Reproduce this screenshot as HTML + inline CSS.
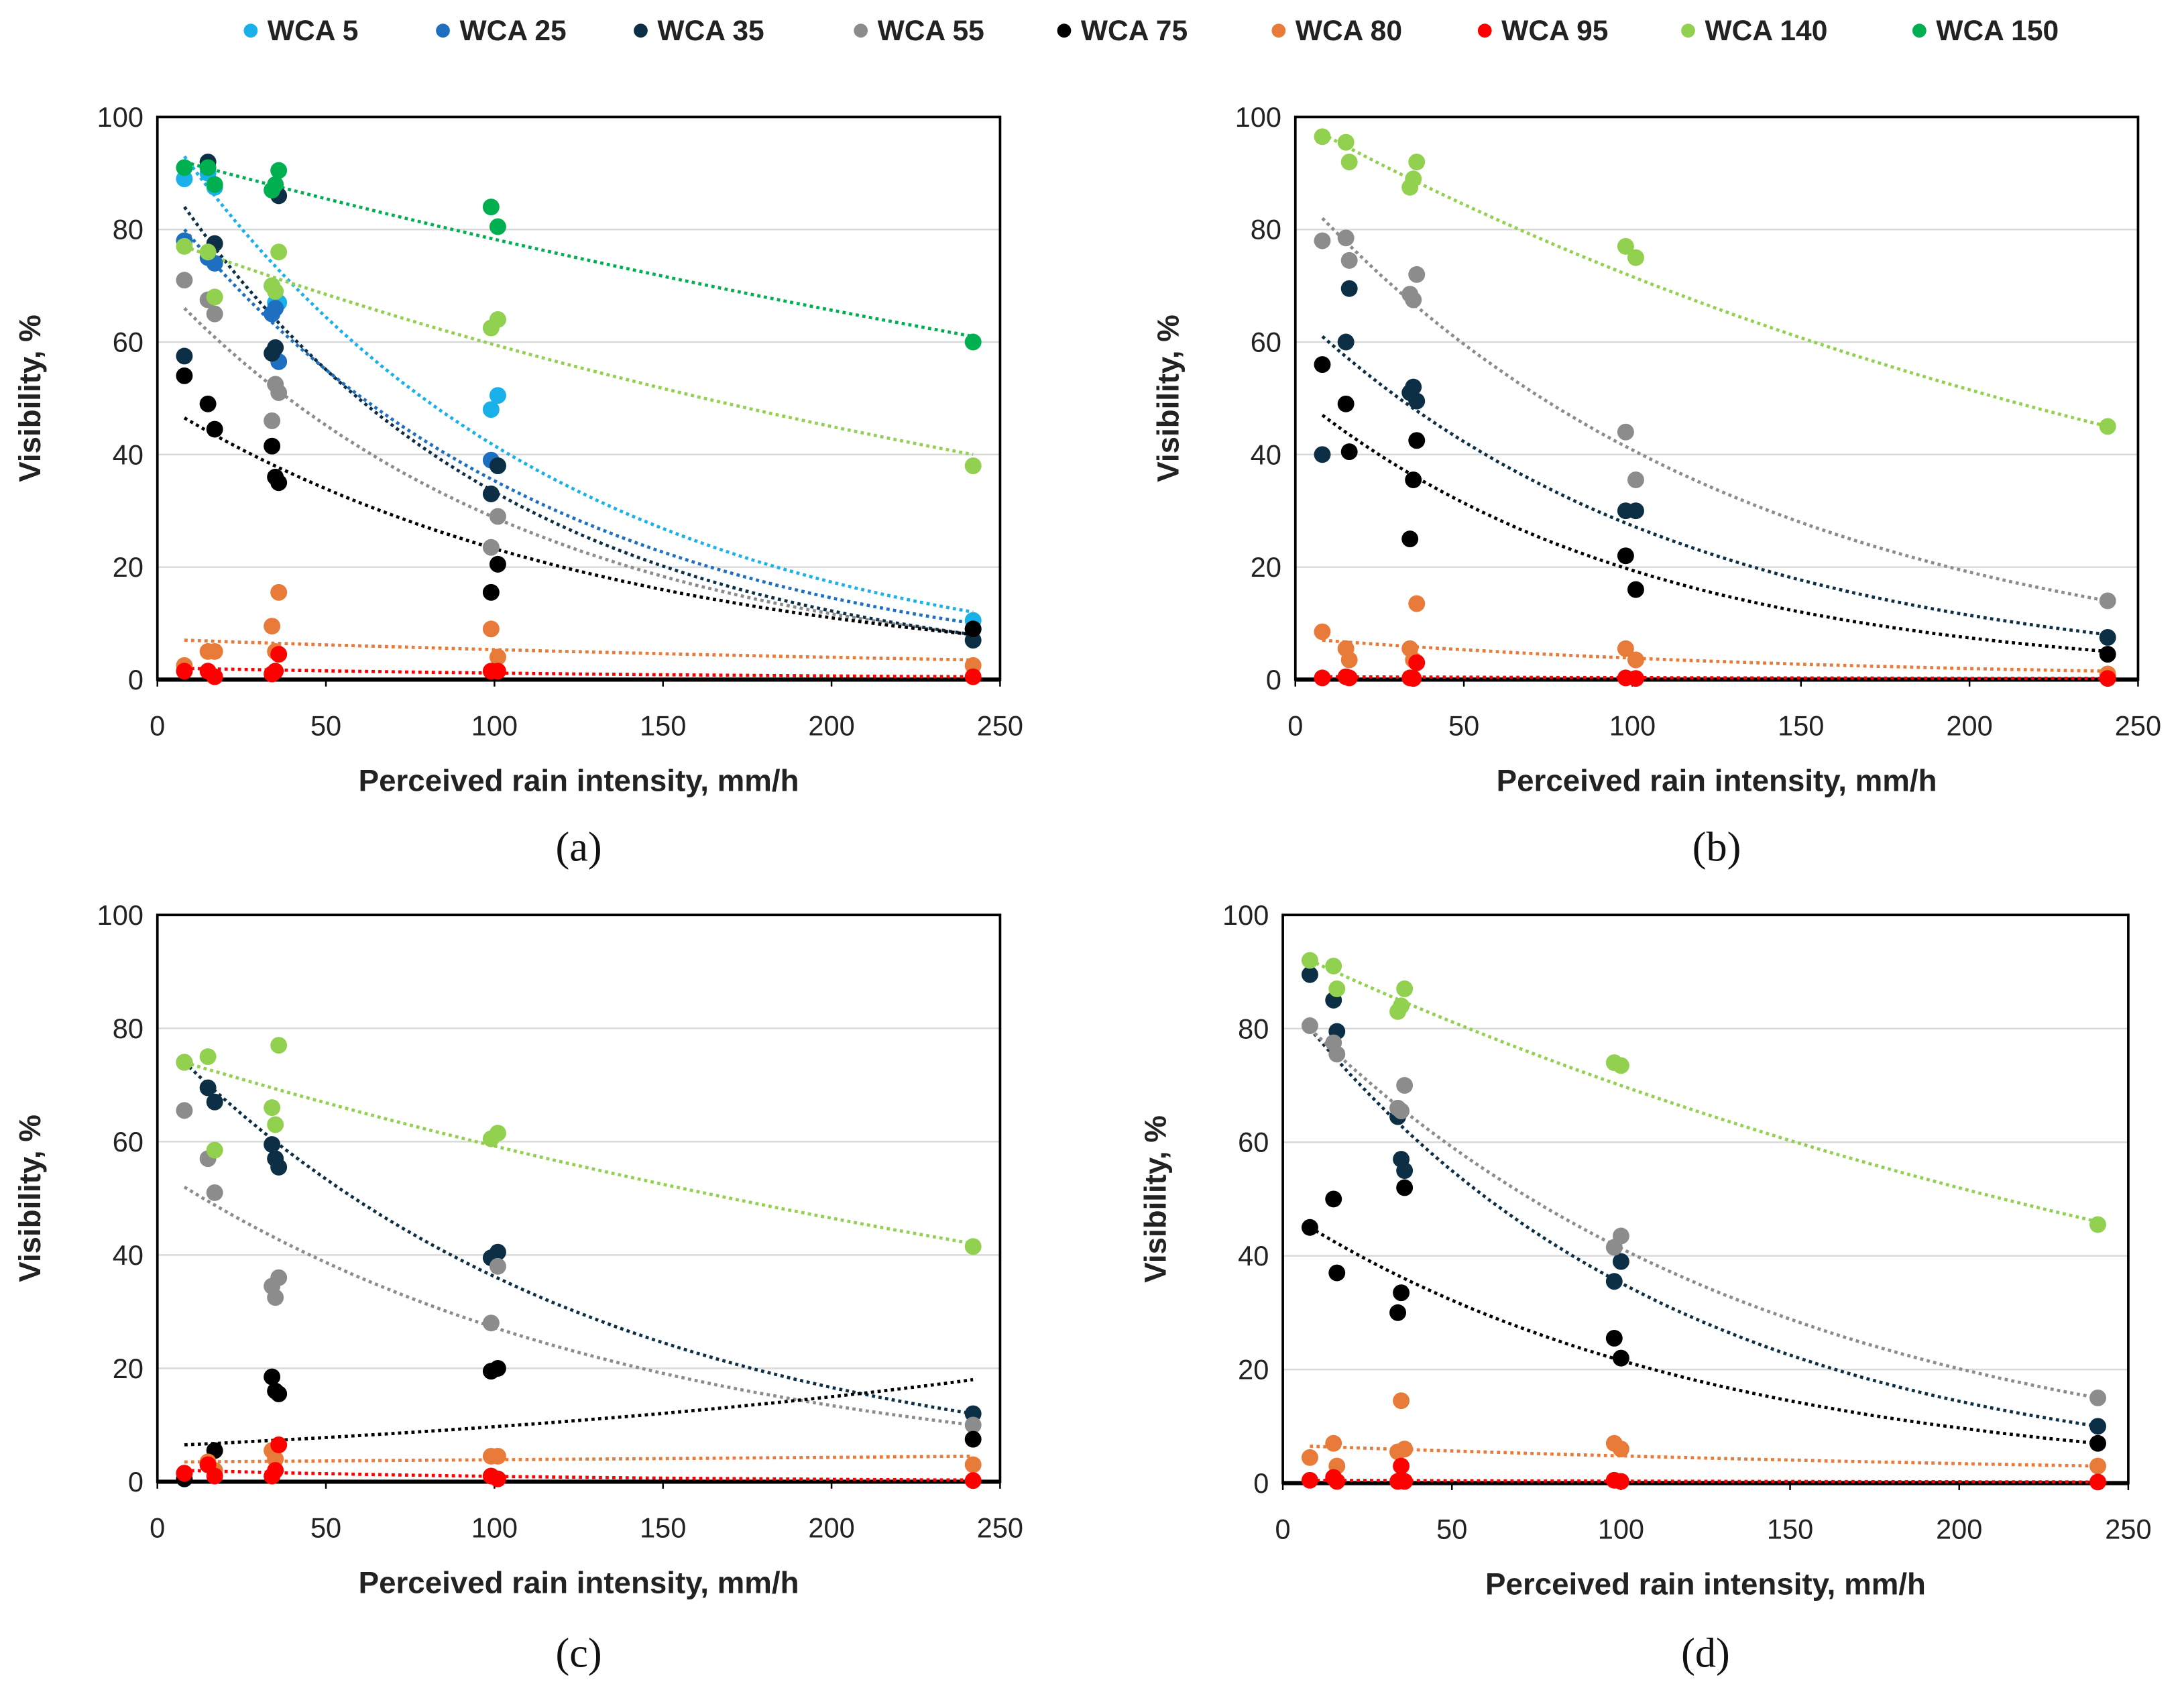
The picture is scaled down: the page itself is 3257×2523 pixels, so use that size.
<!DOCTYPE html>
<html><head><meta charset="utf-8"><style>
html,body{margin:0;padding:0;background:#fff}
svg{display:block}
</style></head><body>
<svg id="fig" width="3257" height="2523" viewBox="0 0 1568 1215" preserveAspectRatio="none" xmlns="http://www.w3.org/2000/svg" font-family="Liberation Sans, sans-serif"></svg>
<script>
const seriesNames=["WCA 5","WCA 25","WCA 35","WCA 55","WCA 75","WCA 80","WCA 95","WCA 140","WCA 150"];
const seriesColors=["#1ab0ea","#1f6fc0","#0d2f45","#8c8c8c","#000000","#e87b3a","#ff0000","#92d050","#00b050"];
const xTicks=[0,50,100,150,200,250];
const yTicks=[0,20,40,60,80,100];
const xA=[8,15,17,34,35,36,99,101,242];
const xB=[8,15,16,34,35,36,98,101,241];
const xC=[8,15,17,34,35,36,99,101,242];
const xD=[8,15,16,34,35,36,98,100,241];
// panel a values
const a5=[89,90,87.5,70,67,67,48,50.5,10.5];
const a25=[78,75,74,65,66,56.5,39,38,9];
const a35=[57.5,92,77.5,58,59,86,33,38,7];
const a55=[71,67.5,65,46,52.5,51,23.5,29,9];
const a75=[54,49,44.5,41.5,36,35,15.5,20.5,9];
const a80=[2.5,5,5,9.5,5,15.5,9,4,2.5];
const a95=[1.5,1.5,0.5,1,1.5,4.5,1.5,1.5,0.5];
const a140=[77,76,68,70,69,76,62.5,64,38];
const a150=[91,91,88,87,88,90.5,84,80.5,60];
// panel b values
const b35=[40,60,69.5,51,52,49.5,30,30,7.5];
const b55=[78,78.5,74.5,68.5,67.5,72,44,35.5,14];
const b75=[56,49,40.5,25,35.5,42.5,22,16,4.5];
const b80=[8.5,5.5,3.5,5.5,3.5,13.5,5.5,3.5,1];
const b95=[0.3,0.5,0.3,0.3,0.2,3,0.3,0.2,0.2];
const b140=[96.5,95.5,92,87.5,89,92,77,75,45];
// panel c values
const c35=[74,69.5,67,59.5,57,55.5,39.5,40.5,12];
const c55=[65.5,57,51,34.5,32.5,36,28,38,10];
const c75=[0.5,3,5.5,18.5,16,15.5,19.5,20,7.5];
const c80=[1.5,3.5,2,5.5,4,6.5,4.5,4.5,3];
const c95=[1.5,3,1,1,2,6.5,1,0.5,0.2];
const c140=[74,75,58.5,66,63,77,60.5,61.5,41.5];
// panel d values
const d35=[89.5,85,79.5,64.5,57,55,35.5,39,10];
const d55=[80.5,77.5,75.5,66,65.5,70,41.5,43.5,15];
const d75=[45,50,37,30,33.5,52,25.5,22,7];
const d80=[4.5,7,3,5.5,14.5,6,7,6,3];
const d95=[0.5,1,0.3,0.3,3,0.3,0.5,0.3,0.2];
const d140=[92,91,87,83,84,87,74,73.5,45.5];
// trend endpoints [start,end]
const trendA=[[93,12],[80,10],[84,8],[66,8],[46.5,8],[7,3.5],[2,0.5],[77,40],[92,61]];
const trendB=[[61,8],[82,14],[47,5],[7,1.5],[0.5,0.2],[97,45]];
const trendC=[[74,12],[52,10],[6.5,18],[3.5,4.5],[2,0.3],[74,42]];
const trendD=[[80,10],[80,15],[45,7],[6.5,3],[0.5,0.2],[92,46]];

const NS="http://www.w3.org/2000/svg";
const svg=document.getElementById('fig');
function mk(tag,attrs,parent){const e=document.createElementNS(NS,tag);for(const k in attrs)e.setAttribute(k,attrs[k]);(parent||svg).appendChild(e);return e;}

// legend
const legX=[180,318,460,618,764,918,1066,1212,1378];
seriesNames.forEach((n,i)=>{
  const g=mk('g',{});
  
  
  mk('circle',{cx:legX[i],cy:22,r:5,fill:seriesColors[i]},g);
  const t=mk('text',{x:legX[i]+12,y:29,'font-size':20.5,'font-weight':'bold',fill:'#222'},g);
  t.textContent=n;
});

const panels=[
 {id:'a',x0:113,x1:718,yT:84,yB:488,xs:xA,ser:[[0,a5],[1,a25],[2,a35],[3,a55],[4,a75],[5,a80],[6,a95],[7,a140],[8,a150]],tr:trendA,cap:608},
 {id:'b',x0:930,x1:1535,yT:84,yB:488,xs:xB,ser:[[2,b35],[3,b55],[4,b75],[5,b80],[6,b95],[7,b140]],tr:trendB,cap:608},
 {id:'c',x0:113,x1:718,yT:657,yB:1064,xs:xC,ser:[[2,c35],[3,c55],[4,c75],[5,c80],[6,c95],[7,c140]],tr:trendC,cap:1187},
 {id:'d',x0:921,x1:1528,yT:657,yB:1065,xs:xD,ser:[[2,d35],[3,d55],[4,d75],[5,d80],[6,d95],[7,d140]],tr:trendD,cap:1187}
];
panels.forEach(p=>{
  const g=mk('g',{});
  
  
  const X=v=>p.x0+(p.x1-p.x0)*v/250, Y=v=>p.yB-(p.yB-p.yT)*v/100;
  yTicks.forEach(t=>{
    if(t>0&&t<100){const l=mk('line',{x1:p.x0,x2:p.x1,y1:Y(t),y2:Y(t),stroke:'#d9d9d9','stroke-width':1.2},g);
    }
    const tx=mk('text',{x:p.x0-10,y:Y(t)+7,'font-size':20,'text-anchor':'end',fill:'#222'},g);
    
    tx.textContent=t;
  });
  xTicks.forEach(t=>{
    const tx=mk('text',{x:X(t),y:p.yB+40,'font-size':20,'text-anchor':'middle',fill:'#222'},g);
    
    tx.textContent=t;
    mk('line',{x1:X(t),x2:X(t),y1:p.yB,y2:p.yB+5,stroke:'#000','stroke-width':1.2},g);
  });
  const box=mk('rect',{x:p.x0,y:p.yT,width:p.x1-p.x0,height:p.yB-p.yT,fill:'none',stroke:'#000','stroke-width':1.8},g);
  
  const xa=mk('line',{x1:p.x0,x2:p.x1,y1:p.yB,y2:p.yB,stroke:'#000','stroke-width':3},g);
  
  p.ser.forEach(([ci,vals],k)=>{
    const [s,e]=p.tr[k];const xs=p.xs;const xa0=xs[0],xa1=xs[xs.length-1];
    let d='';
    for(let i=0;i<=40;i++){const xv=xa0+(xa1-xa0)*i/40;
      let yv;
      if(s>0&&e>0){const b=Math.log(e/s)/(xa1-xa0);yv=s*Math.exp(b*(xv-xa0));}else yv=s+(e-s)*(xv-xa0)/(xa1-xa0);
      d+=(i?'L':'M')+X(xv).toFixed(1)+' '+Y(yv).toFixed(1);}
    const tl=mk('path',{d:d,fill:'none',stroke:seriesColors[ci],'stroke-width':2.3,'stroke-dasharray':'2.3 2.5'},g);
    
    
  });
  p.ser.forEach(([ci,vals])=>{
    vals.forEach((v,i)=>{
      const c=mk('circle',{cx:X(p.xs[i]),cy:Y(v),r:6,fill:seriesColors[ci]},g);
      
      
    });
  });
  const yt=mk('text',{x:0,y:0,'font-size':22,'font-weight':'bold','text-anchor':'middle',fill:'#222',transform:`translate(${p.x0-84},${(p.yT+p.yB)/2}) rotate(-90)`},g);
  
  yt.textContent='Visibility, %';
  const xt=mk('text',{x:(p.x0+p.x1)/2,y:p.yB+80,'font-size':22,'font-weight':'bold','text-anchor':'middle',fill:'#222'},g);
  
  xt.textContent='Perceived rain intensity, mm/h';
  const cp=mk('text',{x:(p.x0+p.x1)/2,y:p.cap+10,'font-size':30,'text-anchor':'middle',fill:'#111','font-family':'Liberation Serif, serif'},g);
  
  cp.textContent='('+p.id+')';
});
</script>
</body></html>
